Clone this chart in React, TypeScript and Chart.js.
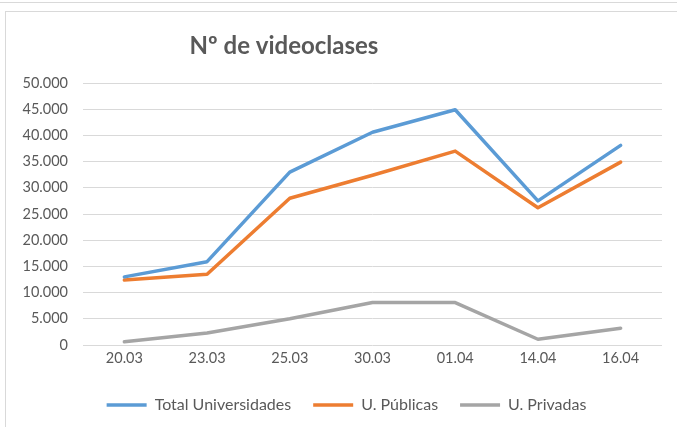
import React, { useEffect, useRef } from "react";
import { Chart, registerables } from "chart.js";

Chart.register(...registerables);

const categories = ["20.03", "23.03", "25.03", "30.03", "01.04", "14.04", "16.04"];
const totalUniversidades = [13000, 15900, 33000, 40600, 44900, 27500, 38100];
const uPublicas = [12400, 13500, 28000, 32400, 37000, 26200, 34900];
const uPrivadas = [600, 2300, 5000, 8100, 8100, 1100, 3200];
const yTicks = [0, 5000, 10000, 15000, 20000, 25000, 30000, 35000, 40000, 45000, 50000];
const titleText = "Nº de videoclases";

const FONT = "Lato, 'Open Sans', sans-serif";
const TEXT = "#595959";
const GRID = "#d9d9d9";

const fmt = (v: number) => {
  if (v === 0) return "0";
  const s = String(Math.round(v));
  return s.replace(/\B(?=(\d{3})+(?!\d))/g, ".");
};

const titlePlugin = {
  id: "customTitle",
  beforeDraw(chart: any) {
    const lg = chart.legend;
    if (lg && !lg._shifted) {
      lg.left += 12;
      lg.right += 12;
      lg._shifted = true;
    }
  },
  afterLayout(chart: any) {
    if (chart.legend) chart.legend._shifted = false;
  },
  afterDraw(chart: any) {
    const ctx = chart.ctx;
    ctx.save();
    ctx.font = `bold 24px ${FONT}`;
    ctx.fillStyle = TEXT;
    ctx.textAlign = "center";
    ctx.textBaseline = "middle";
    ctx.fillText(titleText, 277, 33);
    ctx.restore();
  },
};

export default function App() {
  const ref = useRef<HTMLCanvasElement | null>(null);
  useEffect(() => {
    if (!ref.current) return;
    const mk = (label: string, data: number[], color: string) => ({
      label,
      data,
      borderColor: color,
      backgroundColor: color,
      borderWidth: 3.5,
      pointRadius: 0,
      tension: 0,
      borderCapStyle: "round" as const,
      borderJoinStyle: "round" as const,
    });
    const chart = new Chart(ref.current, {
      type: "line",
      data: {
        labels: categories,
        datasets: [
          mk("Total Universidades", totalUniversidades, "#5b9bd5"),
          mk("U. Públicas", uPublicas, "#ed7d31"),
          mk("U. Privadas", uPrivadas, "#a5a5a5"),
        ],
      },
      options: {
        animation: false,
        responsive: false,
        maintainAspectRatio: false,
        layout: { padding: { top: 70, right: 15, left: 0, bottom: 4 } },
        plugins: {
          title: { display: false },
          tooltip: { enabled: false },
          legend: {
            position: "bottom",
            labels: {
              usePointStyle: true,
              pointStyle: "line",
              pointStyleWidth: 40,
              padding: 22,
              color: TEXT,
              font: { family: FONT, size: 16 },
            },
          },
        },
        scales: {
          x: {
            offset: true,
            grid: { display: false, drawTicks: false },
            border: { display: false },
            ticks: { color: TEXT, font: { family: FONT, size: 14.5 }, padding: 5, maxRotation: 0 },
            afterFit: (s: any) => {
              s.height = 30;
            },
          },
          y: {
            min: 0,
            max: 50000,
            afterBuildTicks: (s: any) => {
              s.ticks = yTicks.map((v) => ({ value: v }));
            },
            grid: { color: GRID, lineWidth: 1, drawTicks: false },
            border: { display: false },
            ticks: {
              color: TEXT,
              font: { family: FONT, size: 14.5 },
              padding: 15,
              callback: (v: any) => fmt(Number(v)),
            },
            afterFit: (s: any) => {
              s.width = 76;
            },
          },
        },
      },
      plugins: [titlePlugin],
    });
    return () => chart.destroy();
  }, []);

  return (
    <div style={{ position: "absolute", left: 0, top: 0, width: 677, height: 427, background: "#fff", overflow: "hidden" }}>
      <div style={{ position: "absolute", left: 0, top: 2, width: 677, height: 1, background: GRID }} />
      <div
        style={{
          position: "absolute",
          left: 5,
          top: 11,
          width: 672,
          height: 416,
          borderLeft: `1px solid ${GRID}`,
          borderTop: `1px solid ${GRID}`,
        }}
      >
        <canvas ref={ref} width={670} height={414} style={{ display: "block", position: "absolute", left: 1, top: 1 }} />
      </div>
    </div>
  );
}
